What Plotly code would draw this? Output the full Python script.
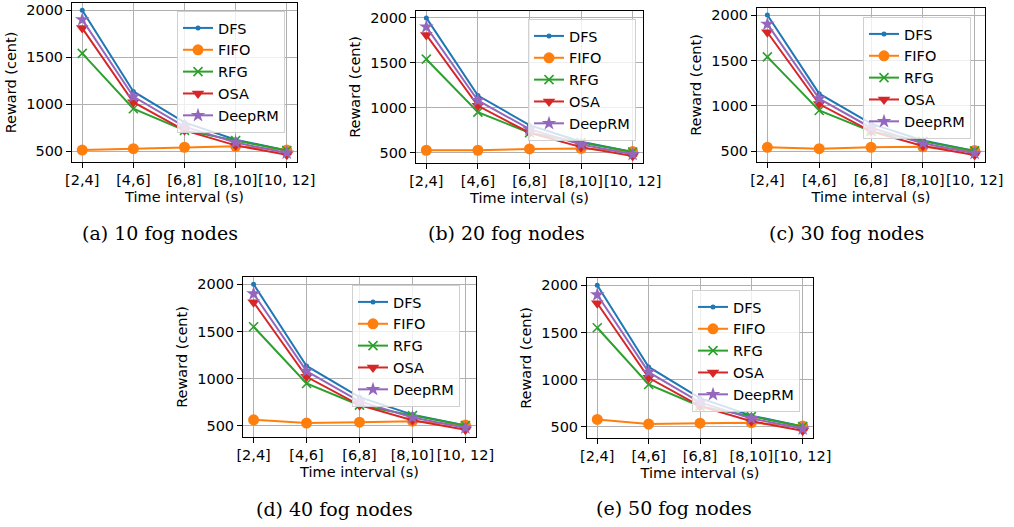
import plotly.graph_objects as go

W, H = 1014, 527

categories = ["[2,4]", "[4,6]", "[6,8]", "[8,10]", "[10, 12]"]
series_names = ["DFS", "FIFO", "RFG", "OSA", "DeepRM"]

dfs = [2000, 1135, 805, 620, 505]
rfg = [1540, 950, 720, 610, 505]
osa = [1810, 1020, 720, 560, 460]
deeprm = [1900, 1080, 760, 590, 480]
rfg_high = [1550, 950, 720, 610, 505]

fifo_10 = [510, 525, 540, 550, 510]
fifo_20 = [525, 525, 540, 545, 510]
fifo_30 = [545, 530, 545, 550, 510]
fifo_40 = [565, 530, 540, 550, 510]
fifo_50 = [580, 530, 540, 545, 510]

captions = ["(a) 10 fog nodes", "(b) 20 fog nodes", "(c) 30 fog nodes",
            "(d) 40 fog nodes", "(e) 50 fog nodes"]

panel_data = [
    [dfs, fifo_10, rfg, osa, deeprm],
    [dfs, fifo_20, rfg, osa, deeprm],
    [dfs, fifo_30, rfg, osa, deeprm],
    [dfs, fifo_40, rfg_high, osa, deeprm],
    [dfs, fifo_50, rfg_high, osa, deeprm],
]

# layout geometry in pixels: (left, right, top, bottom)
axes_px = [
    (72, 297, 3, 162),
    (416, 643, 11, 163),
    (757, 985, 8, 162),
    (243, 476, 277, 437),
    (587, 813, 278, 438),
]
legend_px = [(177, 11), (528, 19), (863, 17), (352, 285), (692, 290)]
caption_px = [(160, 233), (506, 233), (846, 233), (334, 509), (674, 508)]

colors = ["#1f77b4", "#ff7f0e", "#2ca02c", "#d62728", "#9467bd"]
markers = [
    dict(symbol="circle", size=5),
    dict(symbol="circle", size=11),
    dict(symbol="x-thin", size=9, line=dict(width=1.6)),
    dict(symbol="triangle-down", size=11),
    dict(symbol="star", size=11),
]

FONT = "DejaVu Sans"
FS = 14.5

fig = go.Figure()
layout = dict(
    width=W, height=H,
    margin=dict(l=0, r=0, t=0, b=0),
    paper_bgcolor="white", plot_bgcolor="white",
    template="none",
    font=dict(family=FONT, size=FS, color="black"),
    showlegend=True,
    annotations=[],
)

for p in range(5):
    idx = "" if p == 0 else str(p + 1)
    xa, ya = "x" + idx, "y" + idx
    leg = "legend" + idx
    for s in range(5):
        m = dict(markers[s])
        m["color"] = colors[s]
        if "line" in m:
            m["line"] = dict(m["line"], color=colors[s])
        fig.add_trace(go.Scatter(
            x=list(range(len(categories))), y=panel_data[p][s],
            name=series_names[s], mode="lines+markers",
            line=dict(color=colors[s], width=2),
            marker=m, xaxis=xa, yaxis=ya, legend=leg,
        ))
    allv = [v for ser in panel_data[p] for v in ser]
    lo, hi = min(allv), max(allv)
    pad = 0.05 * (hi - lo)
    l, r, t, b = axes_px[p]
    common = dict(showline=True, linecolor="black", linewidth=1, mirror=True,
                  ticks="outside", ticklen=5, tickwidth=1, tickcolor="black",
                  showgrid=True, gridcolor="#b0b0b0", gridwidth=1,
                  zeroline=False, automargin=False, tickangle=0,
                  tickfont=dict(family=FONT, size=FS, color="black"))
    layout["xaxis" + idx] = dict(
        common, domain=[l / W, r / W], anchor=ya, range=[-0.2, 4.2],
        tickmode="array", tickvals=list(range(len(categories))), ticktext=categories,
        ticklabelstandoff=0,
        title=dict(text="Time interval (s)", standoff=4,
                   font=dict(family=FONT, size=FS, color="black")),
    )
    layout["yaxis" + idx] = dict(
        common, domain=[1 - b / H, 1 - t / H], anchor=xa, range=[lo - pad, hi + pad],
        tickmode="array", tickvals=[500, 1000, 1500, 2000],
        title=dict(text="Reward (cent)", standoff=6,
                   font=dict(family=FONT, size=FS, color="black")),
    )
    lx, ly = legend_px[p]
    layout[leg] = dict(
        x=lx / W, y=1 - ly / H, xanchor="left", yanchor="top",
        xref="paper", yref="paper",
        bgcolor="rgba(255,255,255,0.8)", bordercolor="#d0d0d0", borderwidth=1,
        font=dict(family=FONT, size=FS, color="black"),
        itemwidth=30, tracegroupgap=0,
    )
    cx, cy = caption_px[p]
    layout["annotations"].append(dict(
        text=captions[p], x=cx / W, y=1 - cy / H, xref="paper", yref="paper",
        xanchor="center", yanchor="middle", showarrow=False,
        font=dict(family="DejaVu Serif", size=19, color="black"),
    ))

fig.update_layout(**layout)
fig.write_html(
    "out.html",
    config={"displayModeBar": False},
    post_script="document.body.style.margin='0';document.body.style.overflow='hidden';",
)
